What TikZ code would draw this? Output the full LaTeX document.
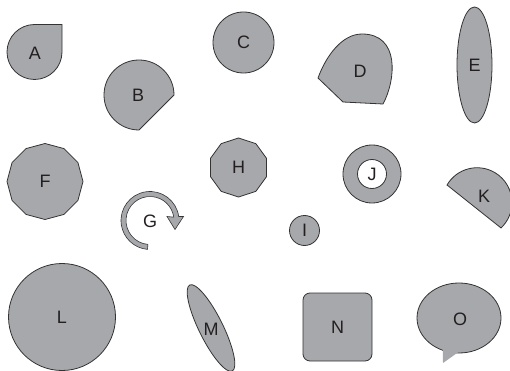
\documentclass[tikz,border=0pt]{standalone}
\usepackage{fontspec}
\setmainfont{Liberation Sans}
\usetikzlibrary{shapes.geometric,calc}
\definecolor{shapefill}{HTML}{A7A8AB}
\definecolor{edgecol}{HTML}{333333}
\definecolor{ink}{HTML}{231F20}
\begin{document}
\begin{tikzpicture}[x=1pt,y=-1pt,
  shp/.style={fill=shapefill, draw=edgecol, line width=0.8pt},
  lbl/.style={font=\fontsize{18}{18}\selectfont, text=ink, inner sep=0pt},
  nd/.style={shp, lbl, inner sep=0pt}]
\useasboundingbox (0,0) rectangle (510,371);
% A
\draw[shp] (34.5,24.5) -- (62,24.5) -- (62,52) arc[start angle=0,end angle=270,radius=27.5] -- cycle;
\node[lbl] (lA) at (35,53) {A};
% B
\draw[shp] (174,95) -- (139,130) arc[start angle=90,end angle=360,radius=35] -- cycle;
\node[lbl] (lB) at (138,95) {B};
% C
\node[nd, circle, minimum size=61pt] (C) at (243.5,42.5) {C};
% D
\draw[shp] (318,78) -- (343,102) -- (383,104) .. controls (396,80) and (400,34) .. (362,34) .. controls (342,34) and (326,56) .. (318,78) -- cycle;
\node[lbl] (lD) at (360,71) {D};
% E
\node[nd, ellipse, minimum width=35pt, minimum height=116pt] (E) at (474.5,65) {E};
% F
\node[nd, regular polygon, regular polygon sides=12, shape border rotate=15, minimum size=76pt] (F) at (45,181.5) {F};
% G
\draw[shp, line width=0.6pt] (150,220.5) ++(95:24) arc[start angle=95,end angle=352,radius=24] -- (167,216.5) -- (175,229.5) -- (183.5,216.5) -- (178.72,216.46) arc[start angle=352,end angle=95,radius=29] -- cycle;
\node[lbl] (lG) at (150,221) {G};
% H
\node[nd, regular polygon, regular polygon sides=10, shape border rotate=18, minimum size=59pt] (H) at (238.5,167.5) {H};
% I
\node[nd, circle, minimum size=30pt] (I) at (304.5,230.5) {I};
% J
\draw[shp, even odd rule] (372,174) circle[radius=29] (372,174) circle[radius=14.5];
\node[lbl] (lJ) at (372,174) {J};
% K
\draw[shp] (447,185) arc[start angle=210.3,end angle=406.7,radius=34.86] -- cycle;
\node[lbl] (lK) at (484,196) {K};
% L
\node[nd, circle, minimum size=107pt] (L) at (62,317) {L};
% M
\node[shp, ellipse, minimum width=96pt, minimum height=24pt, inner sep=0pt, rotate=-63.7] (M) at (211,328) {};
\node[lbl] (lM) at (211,329) {M};
% N
\node[nd, rectangle, rounded corners=7pt, minimum width=69pt, minimum height=68pt] (N) at (337.5,327) {N};
% O
\node[shp, ellipse, minimum width=84pt, minimum height=70pt, inner sep=0pt] (O) at (459,318) {};
\fill[shapefill] (442.7,347) -- (443,363) -- (462,349.5) -- cycle;
\node[lbl] (lO) at (460,319) {O};
\end{tikzpicture}
\end{document}
